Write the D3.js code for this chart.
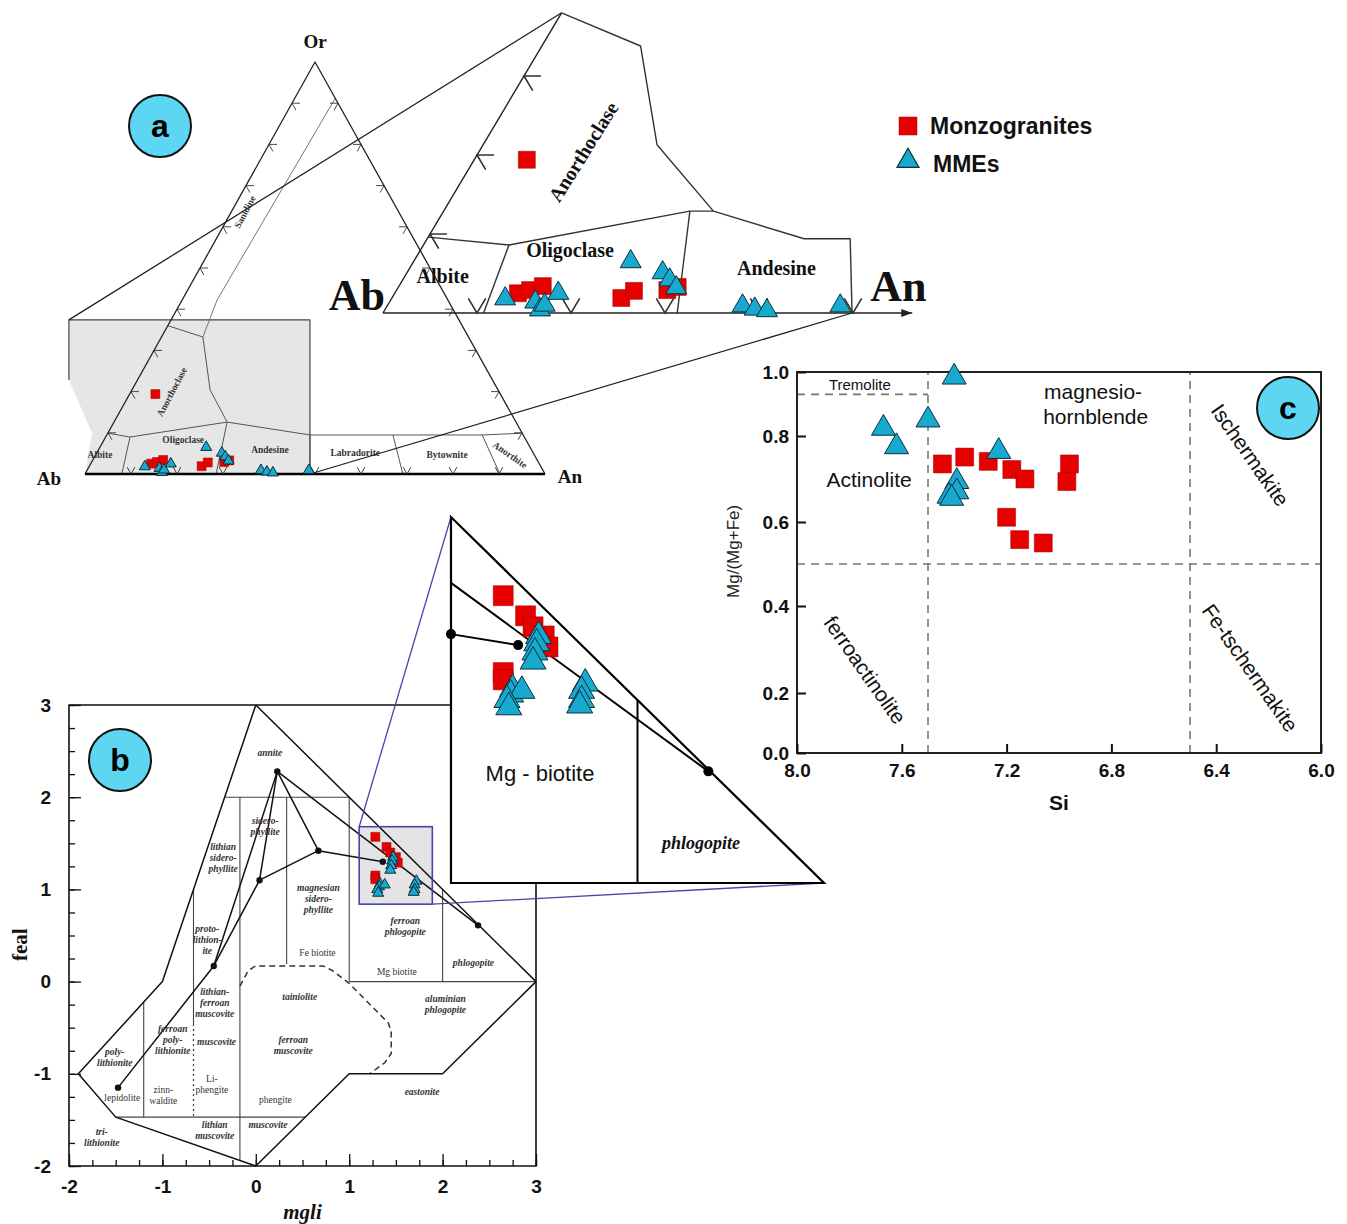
<!DOCTYPE html>
<html><head><meta charset="utf-8">
<script src="https://cdn.jsdelivr.net/npm/d3@7"></script>
<style>html,body{margin:0;padding:0;background:#fff}svg{display:block}</style>
</head><body>
<svg id="fig" width="1347" height="1224"></svg>
<script>
// ---------------- data ----------------
// (a) feldspar compositions, [An %, Or %]
const feldsparMonzogranite = [[5.6,19.4],[13.1,2.5],[14.2,2.9],[15.3,3.4],[24.4,1.9],[25.3,2.8],[28.8,2.9],[29.7,3.3]];
const feldsparMME = [[12.1,1.8],[15.5,1.4],[16.5,0.4],[16.7,1.0],[17.4,2.5],[23.1,6.5],[27.2,5.1],[28.4,4.2],[29.6,3.2],[37.8,0.9],[39.3,0.5],[40.7,0.3],[48.2,0.9]];

// (b) biotite compositions, [mgli, feal]
const biotiteMonzogranite = [[1.28,1.57],[1.40,1.46],[1.44,1.40],[1.50,1.35],[1.52,1.29],[1.28,1.15],[1.28,1.11]];
const biotiteMME = [[1.47,1.35],[1.46,1.31],[1.45,1.26],[1.44,1.21],[1.33,1.06],[1.32,1.03],[1.38,1.05],[1.30,1.00],[1.31,0.96],[1.72,1.09],[1.70,1.05],[1.70,1.00],[1.69,0.97]];

// (c) amphibole compositions, [Si apfu, Mg/(Mg+Fe)]
const amphiboleMonzogranite = [[7.445,0.735],[7.36,0.751],[7.27,0.741],[7.18,0.722],[7.13,0.700],[7.20,0.611],[7.15,0.558],[7.06,0.550],[6.96,0.735],[6.97,0.694]];
const amphiboleMME = [[7.40,0.984],[7.50,0.850],[7.67,0.824],[7.62,0.775],[7.23,0.764],[7.39,0.694],[7.39,0.670],[7.42,0.660],[7.41,0.655]];

// tick values
const siTicks = [8.0, 7.6, 7.2, 6.8, 6.4, 6.0];
const mgTicks = [0.0, 0.2, 0.4, 0.6, 0.8, 1.0];
const mgliTicks = [-2, -1, 0, 1, 2, 3];
const fealTicks = [-2, -1, 0, 1, 2, 3];

// (c) classification boundaries
const siBoundaries = [7.5, 6.5];
const mgBoundary = 0.5;
const tremoliteBoundary = 0.93;

// (a) overview ternary fields, [An %, Or %]
const aGreyPatch = [[-22.2,37.4],[30.2,37.4],[48.9,0],[0,0],[-3.45,9.95],[-14.9,22.8]];
const aGreyBorder = [[-14.9,22.8],[-22.2,37.4],[30.2,37.4],[48.9,0]];
const aPlagBoundary = [[0,9.9],[5.3,8.98],[24.6,12.6],[44.2,9.47],[62.2,9.47],[81.6,9.47],[90.1,9.9]];
const aPlagDividers = [[[5.3,8.98],[8.0,0]],[[24.6,12.6],[28.5,0]],[[44.2,9.47],[48.9,0]],[[62.2,9.47],[69.1,0]],[[81.6,9.47],[90.2,0]]];
const aAnorthoclaseCurve = [[0,36],[9.0,33.25],[17.0,20.4],[24.6,12.6]];
const aSanidineLine = [[9.0,33.25],[7.6,42.2],[8.8,91.2]];
const aOverviewLabels = [
  ["Albite", 0.96, 4.6, 0], ["Oligoclase", 17.2, 8.3, 0], ["Andesine", 37.3, 5.8, 0],
  ["Labradorite", 56.2, 5.1, 0], ["Bytownite", 76.4, 4.6, 0], ["Anorthite", 90.1, 4.6, 35],
  ["Anorthoclase", 8.95, 19.9, -62], ["Sanidine", 3.0, 63.6, -62]
];
// (a) enlarged Ab corner
const aBigOutline = [[0,38],[10.5,33.8],[18.5,21.3],[28.7,12.9],[40.1,9.4],[45.0,9.4],[49.9,0]];
const aBigPlagBoundary = [[0,9.6],[9.1,8.6],[26.2,12.9],[28.7,12.9]];
const aBigDividers = [[[9.1,8.6],[10.7,0]],[[26.2,12.9],[31.3,0]]];
const aBigAxisEnd = 56.3;
const aBigLabels = [["Albite", 4.0, 4.7, 0], ["Oligoclase", 15.9, 8.0, 0], ["Andesine", 39.0, 5.7, 0], ["Anorthoclase", 11.1, 20.4, -58]];

// (b) mgli-feal classification geometry
const bOutline = [[0,3],[-1,0],[-1.9,-1],[-1.5,-1.47],[0,-2],[1,-1],[2,-1],[3,0],[0,3]];
const bFieldLines = [
  [[-0.333,2],[1,2]], [[-0.17,2],[-0.17,-1.94]], [[0.33,2],[0.33,0.19]], [[1,2],[1,0]],
  [[1,0],[3,0]], [[2,1],[2,0]], [[-0.667,1.0],[-0.667,-0.46]], [[-1.2,-0.22],[-1.2,-1.47]],
  [[-1.5,-1.47],[0.53,-1.47]]
];
const bDottedLines = [[[-0.667,-0.46],[-0.667,-1.47]]];
const bMuscoviteCurve = [[-0.17,-0.05],[-0.08,0.12],[0.0,0.17],[0.72,0.17],[0.82,0.12],[1.0,-0.02],[1.42,-0.45],[1.45,-0.55],[1.45,-0.78],[1.38,-0.88],[1.22,-1.0]];
const bTrendLines = [
  [[0.23,2.28],[2.38,0.61]], [[0.23,2.28],[0.67,1.42],[1.36,1.30]], [[0.23,2.28],[0.04,1.10]],
  [[0.23,2.28],[-0.45,0.17]], [[-1.475,-1.15],[-0.45,0.17],[0.04,1.10],[0.67,1.42]]
];
const bTrendNodes = [[0.23,2.28],[0.67,1.42],[1.36,1.30],[0.04,1.10],[-0.45,0.17],[-1.475,-1.15],[2.38,0.61]];
const bFieldLabels = [
  [["annite"], 0.15, 2.48, 1], [["sidero-","phyllite"], 0.10, 1.68, 1], [["lithian","sidero-","phyllite"], -0.35, 1.34, 1],
  [["magnesian","sidero-","phyllite"], 0.67, 0.90, 1], [["Fe biotite"], 0.66, 0.31, 0], [["ferroan","phlogopite"], 1.60, 0.60, 1],
  [["Mg biotite"], 1.51, 0.10, 0], [["phlogopite"], 2.33, 0.20, 1], [["proto-","lithion-","ite"], -0.52, 0.45, 1],
  [["lithian-","ferroan","muscovite"], -0.44, -0.23, 1], [["tainiolite"], 0.47, -0.17, 1], [["aluminian","phlogopite"], 2.03, -0.25, 1],
  [["ferroan","poly-","lithionite"], -0.89, -0.63, 1], [["muscovite"], -0.42, -0.66, 1], [["ferroan","muscovite"], 0.40, -0.69, 1],
  [["poly-","lithionite"], -1.51, -0.82, 1], [["zinn-","waldite"], -0.99, -1.24, 0], [["Li-","phengite"], -0.47, -1.12, 0],
  [["lepidolite"], -1.43, -1.26, 0], [["phengite"], 0.21, -1.28, 0], [["eastonite"], 1.78, -1.20, 1],
  [["lithian","muscovite"], -0.44, -1.61, 1], [["muscovite"], 0.13, -1.56, 1], [["tri-","lithionite"], -1.65, -1.69, 1]
];
// (b) enlarged Mg-biotite / phlogopite triangle
const bInsetTriangle = [[1,2],[1,0],[3,0],[1,2]];
const bInsetPhlogopiteLine = [[2,1],[2,0]];
const bInsetTrends = [[[1,1.64],[2.38,0.61]], [[1,1.36],[1.36,1.30]]];
const bInsetNodes = [[1,1.36],[1.36,1.30],[2.38,0.61]];
const bZoomBox = [[1.107,1.68],[1.89,0.84]];

// (c) field labels [text, Si, Mg#, angle, size]
const cFieldLabels = [
  ["Tremolite", 7.76, 0.962, 0, 15], ["magnesio-", 6.87, 0.94, 0, 21], ["hornblende", 6.86, 0.862, 0, 21],
  ["Actinolite", 7.725, 0.70, 0, 21], ["Ischermakite", 6.27, 0.756, 55, 21],
  ["ferroactinolite", 7.74, 0.253, 55, 21], ["Fe-tschermakite", 6.27, 0.258, 55, 21]
];

// ---------------- styling helpers ----------------
const SANS = '"Liberation Sans", Arial, Helvetica, sans-serif';
const SERIF = '"Liberation Serif", "Times New Roman", Times, serif';
const RED = '#e60000', RED_EDGE = '#a00000', CYAN = '#17a9ce', CYAN_EDGE = '#0b2f3d', BADGE = '#5dd6f1';
const svg = d3.select('#fig');

const pathOf = (proj) => d3.line().x(d => proj(d)[0]).y(d => proj(d)[1]);

function drawLine(g, pts, proj, stroke, width, dash) {
  return g.append('path').attr('d', pathOf(proj)(pts)).attr('fill', 'none')
    .attr('stroke', stroke).attr('stroke-width', width)
    .attr('stroke-dasharray', dash || null).attr('stroke-linejoin', 'round');
}
function addSquares(g, data, proj, side) {
  g.append('g').selectAll('path').data(data).join('path')
    .attr('transform', d => { const p = proj(d); return `translate(${p[0]},${p[1]})`; })
    .attr('d', d3.symbol(d3.symbolSquare, side * side)())
    .attr('fill', RED).attr('stroke', RED_EDGE).attr('stroke-width', 0.5);
}
function addTriangles(g, data, proj, side) {
  g.append('g').selectAll('path').data(data).join('path')
    .attr('transform', d => { const p = proj(d); return `translate(${p[0]},${p[1]})`; })
    .attr('d', d3.symbol(d3.symbolTriangle, side * side * Math.sqrt(3) / 4)())
    .attr('fill', CYAN).attr('stroke', CYAN_EDGE).attr('stroke-width', 1);
}
function badge(x, y, letter) {
  const g = svg.append('g').attr('transform', `translate(${x},${y})`);
  g.append('circle').attr('r', 31).attr('fill', BADGE).attr('stroke', '#111').attr('stroke-width', 2);
  g.append('text').attr('text-anchor', 'middle').attr('dy', '0.35em').attr('font-family', SANS)
    .attr('font-weight', 'bold').attr('font-size', 32).attr('fill', '#000').text(letter);
}
function label(g, text, x, y, opts) {
  const o = Object.assign({ size: 12, family: SANS, weight: 'normal', style: 'normal', angle: 0, anchor: 'middle', fill: '#111' }, opts);
  return g.append('text').attr('transform', `translate(${x},${y}) rotate(${o.angle})`)
    .attr('text-anchor', o.anchor).attr('dominant-baseline', 'central')
    .attr('font-family', o.family).attr('font-size', o.size).attr('font-weight', o.weight)
    .attr('font-style', o.style).attr('fill', o.fill).text(text);
}

// ================= (a) feldspar ternary =================
const SQ3 = Math.sqrt(3) / 2;
const aSmallX = d3.scaleLinear().domain([0, 100]).range([85, 545]);
const aSmallY = d3.scaleLinear().domain([0, 100 * SQ3]).range([474, 62]);
const aBigX = d3.scaleLinear().domain([0, 100]).range([383, 1323]);
const aBigY = d3.scaleLinear().domain([0, 100 * SQ3]).range([313, -477]);
const ternary = (sx, sy) => d => [sx(d[0] + d[1] / 2), sy(d[1] * SQ3)];
const pSmall = ternary(aSmallX, aSmallY);
const pBig = ternary(aBigX, aBigY);

const gA = svg.append('g');
// grey highlighted Ab corner
gA.append('path').attr('d', pathOf(pSmall)(aGreyPatch) + 'Z').attr('fill', '#e6e6e6').attr('stroke', 'none');
drawLine(gA, aGreyBorder, pSmall, '#444', 1.2);

// overview fields
drawLine(gA, aPlagBoundary, pSmall, '#555', 1);
aPlagDividers.forEach(s => drawLine(gA, s, pSmall, '#555', 1));
drawLine(gA, aAnorthoclaseCurve, pSmall, '#555', 1);
drawLine(gA, aSanidineLine, pSmall, '#666', 0.9);

// overview triangle
drawLine(gA, [[0, 0], [0, 100], [100, 0]], pSmall, '#222', 1.3);
drawLine(gA, [[0, 0], [100, 0]], pSmall, '#000', 2.6);

// ternary tick chevrons
function unitDir(proj, p, d) {
  const a = proj(p), b = proj([p[0] + d[0], p[1] + d[1]]);
  const L = Math.hypot(b[0] - a[0], b[1] - a[1]);
  return [(b[0] - a[0]) / L, (b[1] - a[1]) / L];
}
function chevrons(g, proj, pts, dA, dB, len, width) {
  g.append('g').selectAll('path').data(pts).join('path').attr('d', p => {
    const o = proj(p), a = unitDir(proj, p, dA), b = unitDir(proj, p, dB);
    return `M${o[0] + a[0] * len},${o[1] + a[1] * len}L${o[0]},${o[1]}L${o[0] + b[0] * len},${o[1] + b[1] * len}`;
  }).attr('fill', 'none').attr('stroke', '#333').attr('stroke-width', width);
}
const tenths = d3.range(10, 100, 10);
chevrons(gA, pSmall, tenths.map(k => [k, 0]), [0, 1], [-1, 1], 8, 0.9);
chevrons(gA, pSmall, tenths.map(k => [0, k]), [1, 0], [1, -1], 8, 0.9);
chevrons(gA, pSmall, tenths.map(k => [100 - k, k]), [-1, 0], [0, -1], 8, 0.9);

aOverviewLabels.forEach(([t, an, or, ang]) => {
  const p = pSmall([an, or]);
  label(gA, t, p[0], p[1], { size: 9.5, family: SERIF, weight: 'bold', angle: ang, fill: '#333' });
});
label(gA, 'Or', pSmall([0, 100])[0], pSmall([0, 100])[1] - 21, { size: 19, family: SERIF, weight: 'bold' });
label(gA, 'Ab', pSmall([0, 0])[0] - 36, pSmall([0, 0])[1] + 4, { size: 19, family: SERIF, weight: 'bold' });
label(gA, 'An', pSmall([100, 0])[0] + 25, pSmall([100, 0])[1] + 2, { size: 19, family: SERIF, weight: 'bold' });

// connector lines to the enlarged corner
gA.append('path').attr('d', d3.line()([pSmall(aGreyBorder[1]), pBig(aBigOutline[0])])).attr('stroke', '#222').attr('stroke-width', 1.3);
gA.append('path').attr('d', d3.line()([pSmall(aGreyBorder[3]), pBig(aBigOutline[aBigOutline.length - 1])])).attr('stroke', '#222').attr('stroke-width', 1.3);

// enlarged corner
drawLine(gA, [[0, 0], [0, 38]], pBig, '#222', 1.4);
drawLine(gA, aBigOutline, pBig, '#333', 1.4);
drawLine(gA, aBigPlagBoundary, pBig, '#333', 1.4);
aBigDividers.forEach(s => drawLine(gA, s, pBig, '#333', 1.4));
{
  const a0 = pBig([0, 0]), a1 = pBig([aBigAxisEnd, 0]);
  gA.append('path').attr('d', d3.line()([a0, a1])).attr('stroke', '#222').attr('stroke-width', 1.5);
  gA.append('path').attr('d', `M${a1[0]},${a1[1]}L${a1[0] - 11},${a1[1] - 4}L${a1[0] - 11},${a1[1] + 4}Z`).attr('fill', '#222');
}
chevrons(gA, pBig, [10, 20, 30, 40, 50].map(k => [k, 0]), [0, 1], [-1, 1], 17, 1.6);
chevrons(gA, pBig, [10, 20, 30].map(k => [0, k]), [1, 0], [1, -1], 17, 1.6);
aBigLabels.forEach(([t, an, or, ang]) => {
  const p = pBig([an, or]);
  label(gA, t, p[0], p[1], { size: 20, family: SERIF, weight: 'bold', angle: ang });
});
label(gA, 'Ab', pBig([0, 0])[0] + 2, pBig([0, 0])[1] - 18, { size: 44, family: SERIF, weight: 'bold', anchor: 'end' });
label(gA, 'An', pBig([aBigAxisEnd, 0])[0] - 42, pBig([aBigAxisEnd, 0])[1] - 27, { size: 44, family: SERIF, weight: 'bold', anchor: 'start' });

// feldspar points
addSquares(gA, feldsparMonzogranite, pSmall, 9);
addTriangles(gA, feldsparMME, pSmall, 11);
addSquares(gA, feldsparMonzogranite, pBig, 17);
addTriangles(gA, feldsparMME, pBig, 21);

// ================= (b) biotite mgli-feal =================
const bx = d3.scaleLinear().domain([-2, 3]).range([69, 536]);
const by = d3.scaleLinear().domain([-2, 3]).range([1166, 705]);
const bInX = d3.scaleLinear().domain([1, 3]).range([451, 824]);
const bInY = d3.scaleLinear().domain([0, 2]).range([883, 517]);
const pB = d => [bx(d[0]), by(d[1])];
const pBi = d => [bInX(d[0]), bInY(d[1])];
const gB = svg.append('g');

// zoom box fill
{
  const a = pB(bZoomBox[0]), b = pB(bZoomBox[1]);
  gB.append('rect').attr('x', a[0]).attr('y', a[1]).attr('width', b[0] - a[0]).attr('height', b[1] - a[1]).attr('fill', '#e4e4e4');
}
bFieldLines.forEach(s => drawLine(gB, s, pB, '#444', 1.1));
bDottedLines.forEach(s => drawLine(gB, s, pB, '#444', 1.3, '2,3'));
drawLine(gB, bMuscoviteCurve, pB, '#333', 1.5, '6,4');
drawLine(gB, bOutline, pB, '#111', 1.5);
bTrendLines.forEach(s => drawLine(gB, s, pB, '#111', 1.5));
gB.append('g').selectAll('circle').data(bTrendNodes).join('circle')
  .attr('cx', d => bx(d[0])).attr('cy', d => by(d[1])).attr('r', 3.2).attr('fill', '#111');

bFieldLabels.forEach(([lines, m, f, italic]) => {
  const lh = 11, x = bx(m), y0 = by(f) - (lines.length - 1) * lh / 2;
  lines.forEach((s, i) => label(gB, s, x, y0 + i * lh, { size: 9.5, family: SERIF, weight: italic ? 'bold' : 'normal', style: italic ? 'italic' : 'normal', fill: '#333' }));
});

// frame (the enlarged triangle sits over the top-right corner)
gB.append('path').attr('d', `M${bInX(1)},${by(3)}H${bx(-2)}V${by(-2)}H${bx(3)}V${bInY(0)}`)
  .attr('fill', 'none').attr('stroke', '#111').attr('stroke-width', 1.6);

// axes with inward major / minor ticks
const styleAxis = (g, size) => {
  g.select('.domain').remove();
  g.selectAll('line').attr('stroke', '#111').attr('stroke-width', 1.3);
  g.selectAll('text').attr('font-family', SANS).attr('font-weight', 'bold').attr('font-size', size).attr('fill', '#111');
};
const bMinor = d3.range(-2, 3.001, 0.25);
gB.append('g').attr('transform', `translate(${bx(-2)},0)`).call(d3.axisLeft(by).tickValues(bMinor).tickSize(-6).tickFormat('')).call(g => styleAxis(g, 19));
gB.append('g').attr('transform', `translate(0,${by(-2)})`).call(d3.axisBottom(bx).tickValues(bMinor).tickSize(-6).tickFormat('')).call(g => styleAxis(g, 19));
gB.append('g').attr('transform', `translate(${bx(-2)},0)`).call(d3.axisLeft(by).tickValues(fealTicks).tickSize(-12).tickPadding(18).tickFormat(d => String(d))).call(g => styleAxis(g, 19));
gB.append('g').attr('transform', `translate(0,${by(-2)})`).call(d3.axisBottom(bx).tickValues(mgliTicks).tickSize(-12).tickPadding(14).tickFormat(d => String(d))).call(g => styleAxis(g, 19));
label(gB, 'mgli', bx(0.5), 1212, { size: 21, family: SERIF, weight: 'bold', style: 'italic' });
label(gB, 'feal', 20, by(0.4), { size: 21, family: SERIF, weight: 'bold', angle: -90 });

addSquares(gB, biotiteMonzogranite, pB, 9);
addTriangles(gB, biotiteMME, pB, 11);

// zoom box outline and leader lines
{
  const a = pB(bZoomBox[0]), b = pB(bZoomBox[1]);
  gB.append('rect').attr('x', a[0]).attr('y', a[1]).attr('width', b[0] - a[0]).attr('height', b[1] - a[1])
    .attr('fill', 'none').attr('stroke', '#4646a6').attr('stroke-width', 1.6);
  gB.append('path').attr('d', d3.line()([a, pBi([1, 2])])).attr('stroke', '#4646a6').attr('stroke-width', 1.3);
  gB.append('path').attr('d', d3.line()([b, pBi([3, 0])])).attr('stroke', '#4646a6').attr('stroke-width', 1.3);
}

// enlarged Mg-biotite / phlogopite triangle
gB.append('path').attr('d', pathOf(pBi)(bInsetTriangle) + 'Z').attr('fill', '#fff').attr('stroke', '#000').attr('stroke-width', 2.2).attr('stroke-linejoin', 'miter');
drawLine(gB, bInsetPhlogopiteLine, pBi, '#000', 2);
bInsetTrends.forEach(s => drawLine(gB, s, pBi, '#000', 2));
gB.append('g').selectAll('circle').data(bInsetNodes).join('circle')
  .attr('cx', d => bInX(d[0])).attr('cy', d => bInY(d[1])).attr('r', 5).attr('fill', '#000');
label(gB, 'Mg - biotite', bInX(1.477), bInY(0.60), { size: 22, family: SANS });
label(gB, 'phlogopite', bInX(2.34), bInY(0.22), { size: 18, family: SERIF, weight: 'bold', style: 'italic' });
addSquares(gB, biotiteMonzogranite, pBi, 20);
addTriangles(gB, biotiteMME, pBi, 26);

// ================= (c) amphibole =================
const cx = d3.scaleLinear().domain([8, 6]).range([797, 1321]);
const cy = d3.scaleLinear().domain([0, 0.2, 0.4, 0.6, 0.8, 1.0]).range([753, 693, 606, 522, 436, 372]);
const pC = d => [cx(d[0]), cy(d[1])];
const gC = svg.append('g');

const dashC = (pts) => drawLine(gC, pts, pC, '#777', 1.6, '8,6');
siBoundaries.forEach(s => dashC([[s, 0], [s, 1]]));
dashC([[8, mgBoundary], [6, mgBoundary]]);
dashC([[8, tremoliteBoundary], [7.5, tremoliteBoundary]]);

gC.append('rect').attr('x', cx(8)).attr('y', cy(1)).attr('width', cx(6) - cx(8)).attr('height', cy(0) - cy(1))
  .attr('fill', 'none').attr('stroke', '#222').attr('stroke-width', 2);
gC.append('g').attr('transform', `translate(${cx(8)},0)`)
  .call(d3.axisLeft(cy).tickValues(mgTicks).tickSize(-9).tickPadding(8).tickFormat(d3.format('.1f')))
  .call(g => styleAxis(g, 19)).call(g => g.selectAll('line').attr('stroke-width', 2));
gC.append('g').attr('transform', `translate(0,${cy(0)})`)
  .call(d3.axisBottom(cx).tickValues(siTicks).tickSize(-9).tickPadding(11).tickFormat(d3.format('.1f')))
  .call(g => styleAxis(g, 19)).call(g => g.selectAll('line').attr('stroke-width', 2));
label(gC, 'Si', cx(7.0), 802, { size: 21, weight: 'bold' });
label(gC, 'Mg/(Mg+Fe)', 733, cy(0.53), { size: 17, angle: -90, fill: '#222' });

cFieldLabels.forEach(([t, si, mg, ang, size]) => {
  const p = pC([si, mg]);
  label(gC, t, p[0], p[1], { size: size, angle: ang, fill: '#111' });
});

addSquares(gC, amphiboleMonzogranite, pC, 18);
addTriangles(gC, amphiboleMME, pC, 24);

// ================= panel badges and legend =================
badge(160, 126, 'a');
badge(120, 760, 'b');
badge(1288, 408, 'c');

const gL = svg.append('g');
gL.append('path').attr('transform', 'translate(908,126)').attr('d', d3.symbol(d3.symbolSquare, 18 * 18)()).attr('fill', RED).attr('stroke', RED_EDGE).attr('stroke-width', 0.5);
gL.append('path').attr('transform', 'translate(908,161)').attr('d', d3.symbol(d3.symbolTriangle, 22 * 22 * Math.sqrt(3) / 4)()).attr('fill', CYAN).attr('stroke', CYAN_EDGE).attr('stroke-width', 1.2);
label(gL, 'Monzogranites', 930, 126, { size: 23, weight: 'bold', anchor: 'start' });
label(gL, 'MMEs', 933, 164, { size: 23, weight: 'bold', anchor: 'start' });
</script>
</body></html>
